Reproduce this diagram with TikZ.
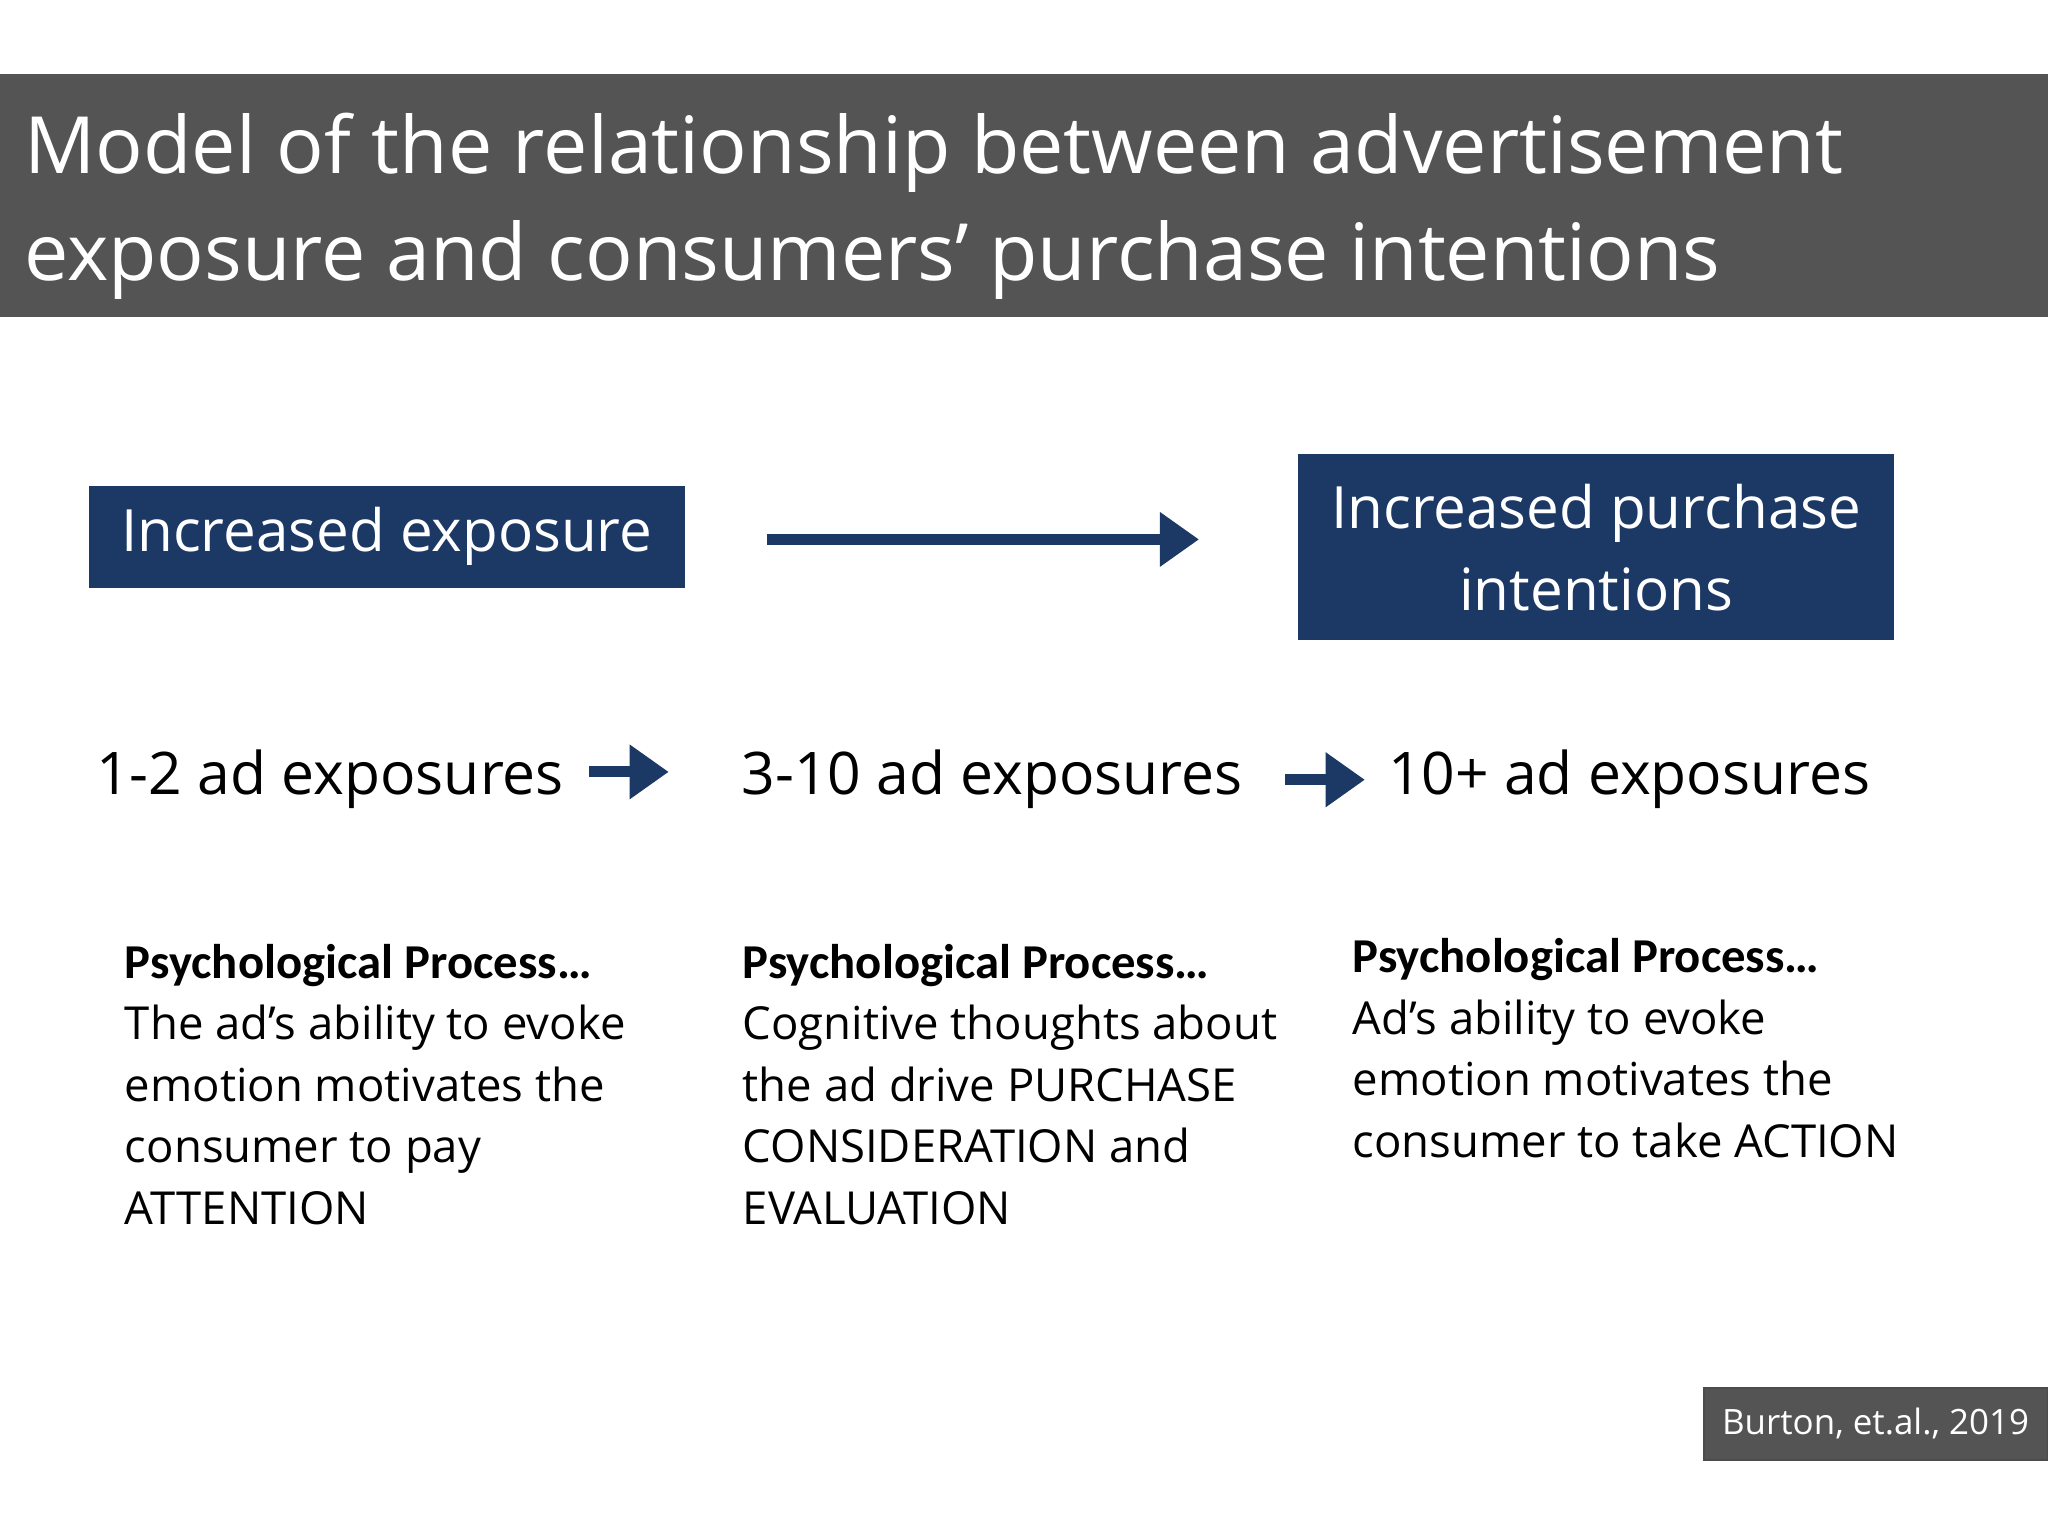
\documentclass[tikz,border=0pt]{standalone}
\usepackage{fontspec}
\setmainfont{Open Sans}
\newfontfamily\cbold{Carlito}
\usetikzlibrary{arrows.meta}
\definecolor{navy}{HTML}{1C3864}
\definecolor{bar}{HTML}{545454}
\tikzset{
 navybox/.style={fill=navy,text=white,inner sep=0pt,font=\fontsize{12.7}{16}\selectfont,align=center},
 rowtxt/.style={anchor=base west,inner sep=0pt,font=\fontsize{12.8}{15}\selectfont},
 para/.style={anchor=north west,inner sep=0pt,align=left,font=\fontsize{9.9}{13.4}\selectfont},
 blockarrow/.style={navy,line width=2.4pt,-{Triangle[length=0.3cm,width=0.4cm]}},
}
\begin{document}
\begin{tikzpicture}[x=0.01cm,y=-0.01cm]
\useasboundingbox[fill=white] (0,0) rectangle (1568,1176);
\fill[bar] (0,57) rectangle (1568,243);
\node[anchor=base west,inner sep=0pt,text=white,font=\fontsize{17.2}{21}\selectfont] (t1) at (18,133) {Model of the relationship between advertisement};
\node[anchor=base west,inner sep=0pt,text=white,font=\fontsize{17.2}{21}\selectfont] (t2) at (18,215) {exposure and consumers’ purchase intentions};
\node[navybox,minimum width=4.56cm,minimum height=0.78cm] (b1) at (296,411) {Increased exposure};
\node[navybox,minimum width=4.56cm,minimum height=1.42cm] (b2) at (1222,419) {Increased purchase\\[0.15em]intentions};
\coordinate (a1) at (587,413);
\coordinate (a2) at (918,413);
\draw[blockarrow] (a1) -- (a2);
\node[rowtxt] (r1) at (73,608) {1-2 ad exposures};
\node[rowtxt] (r2) at (567,608) {3-10 ad exposures};
\node[rowtxt] (r3) at (1062,608) {10+ ad exposures};
\coordinate (s1) at (451,591); \coordinate (e1) at (512,591);
\coordinate (s2) at (984,597); \coordinate (e2) at (1045,597);
\draw[blockarrow] (s1) -- (e1);
\draw[blockarrow] (s2) -- (e2);
\node[para] (p1) at (95,722) {{\cbold\bfseries\fontsize{10.6}{13.4}\selectfont Psychological Process…}\\The ad’s ability to evoke\\emotion motivates the\\consumer to pay\\ATTENTION};
\node[para] (p2) at (568,722) {{\cbold\bfseries\fontsize{10.6}{13.4}\selectfont Psychological Process…}\\Cognitive thoughts about\\the ad drive PURCHASE\\CONSIDERATION and\\EVALUATION};
\node[para] (p3) at (1035,718) {{\cbold\bfseries\fontsize{10.6}{13.4}\selectfont Psychological Process…}\\Ad’s ability to evoke\\emotion motivates the\\consumer to take ACTION};
\node[fill=bar,draw=black!70,text=white,inner sep=0pt,minimum width=2.63cm,minimum height=0.55cm,font=\fontsize{7.6}{9}\selectfont] (cit) at (1436,1090) {Burton, et.al., 2019};
\end{tikzpicture}
\end{document}
